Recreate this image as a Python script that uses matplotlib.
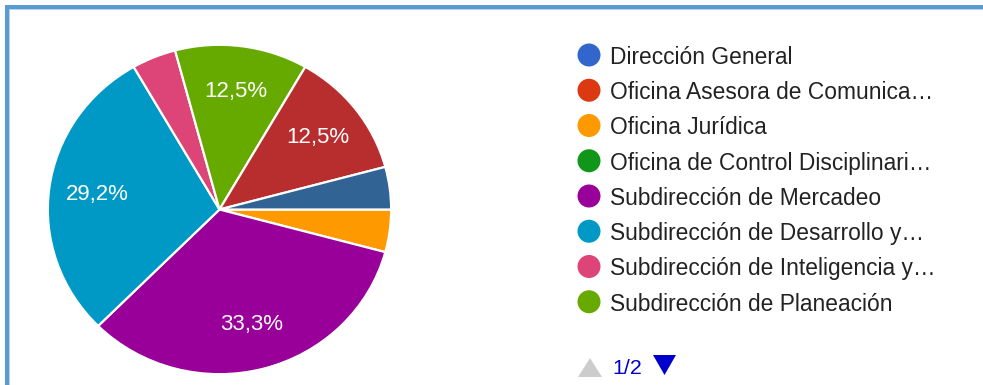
import matplotlib
matplotlib.use("Agg")
import matplotlib.pyplot as plt
from matplotlib.patches import Rectangle, Circle, Polygon

plt.rcParams['font.family'] = ['Liberation Sans', 'DejaVu Sans']

# Legend entries shown on page 1 of 2
legend_labels = [
    "Dirección General",
    "Oficina Asesora de Comunica…",
    "Oficina Jurídica",
    "Oficina de Control Disciplinari…",
    "Subdirección de Mercadeo",
    "Subdirección de Desarrollo y…",
    "Subdirección de Inteligencia y…",
    "Subdirección de Planeación",
]
legend_colors = ["#3366cc", "#dc3912", "#ff9900", "#109618",
                 "#990099", "#0099c6", "#dd4477", "#66aa00"]

# Pie slices (response counts), clockwise from 3 o'clock
slice_counts = [1, 8, 7, 1, 3, 3, 1]
slice_colors = ["#ff9900", "#990099", "#0099c6", "#dd4477",
                "#66aa00", "#b82e2e", "#316395"]
page_text = "1/2"

W, H = 983, 385
fig = plt.figure(figsize=(W / 100, H / 100), dpi=100)
fig.patch.set_facecolor("white")

# Pie axes, placed in pixel terms
px0, px1, py0, py1 = 47, 392, 44, 375
ax = fig.add_axes([px0 / W, 1 - py1 / H, (px1 - px0) / W, (py1 - py0) / H])


def pct_label(p):
    return (f"{p:.1f}%".replace(".", ",")) if p > 5 else ""


wedges, texts, autotexts = ax.pie(
    slice_counts, colors=slice_colors, startangle=0, counterclock=False,
    radius=1.0, autopct=pct_label, pctdistance=0.72,
    wedgeprops=dict(edgecolor="white", linewidth=1.6),
    textprops=dict(color="white", fontsize=16),
)
ax.set_xlim(-1.005, 1.005)
ax.set_ylim(-1.005, 1.005)
ax.set_aspect("auto")
ax.axis("off")

# Frame drawn behind everything, in pixel coordinates
ov = fig.add_axes([0, 0, 1, 1], zorder=-1)
ov.set_xlim(0, W)
ov.set_ylim(H, 0)
ov.axis("off")
ov.add_patch(Rectangle((5, 5), W - 5, 4, color="#5b9bd5", lw=0))
ov.add_patch(Rectangle((5, 5), 4, H - 5, color="#5b9bd5", lw=0))
ov.add_patch(Rectangle((9, 9), W - 9, 1, color="#b4d0ee", lw=0))
ov.add_patch(Rectangle((9, 9), 1, H - 9, color="#b4d0ee", lw=0))

# Legend and pager, in pixel coordinates
ov2 = fig.add_axes([0, 0, 1, 1], zorder=3)
ov2.set_xlim(0, W)
ov2.set_ylim(H, 0)
ov2.axis("off")
for i, (lab, col) in enumerate(zip(legend_labels, legend_colors)):
    y = 55 + 35.25 * i
    ov2.add_patch(Circle((589, y), 11.5, color=col, lw=0))
    ov2.text(610, y, lab, fontsize=16.4, color="#222222",
             va="center_baseline", ha="left")

ov2.add_patch(Polygon([[578, 377], [602, 377], [590, 358]], closed=True,
                      color="#cccccc", lw=0))
ov2.text(612, 367, page_text, fontsize=15.4, color="#0000cc",
         va="center_baseline", ha="left")
ov2.add_patch(Polygon([[653, 355], [676, 355], [664.5, 375]], closed=True,
                      color="#0000cc", lw=0))

fig.savefig("out.png", dpi=100, facecolor="white")
